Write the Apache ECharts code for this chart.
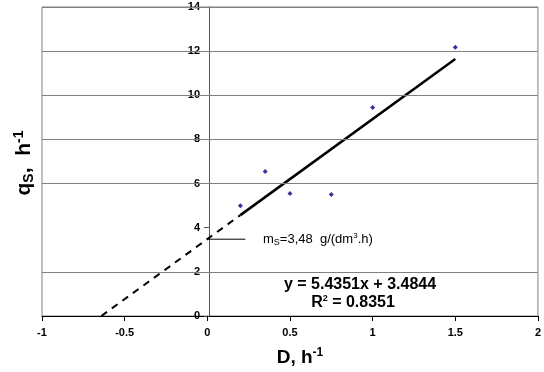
<!DOCTYPE html>
<html>
<head>
<meta charset="utf-8">
<script src="https://cdn.jsdelivr.net/npm/echarts@6/dist/echarts.min.js"></script>
<style>
  html, body { margin: 0; padding: 0; background: #fff; }
  #chart { width: 544px; height: 372px; }
</style>
</head>
<body>
<div id="chart"></div>
<script>
// measured points (D, qS)
var dVals = [0.2, 0.35, 0.5, 0.75, 1.0, 1.5];
var qVals = [5.0, 6.55, 5.55, 5.5, 9.45, 12.18];
// regression y = 5.4351x + 3.4844, end points
var fitX = [0.2, 1.5];
var fitY = [4.57, 11.64];
var extX = [-0.641, 0.2];
var extY = [0, 4.57];
// pointer to the intercept
var msX = [0, 0.23];
var msY = [3.48, 3.48];
// horizontal gridlines seen on the picture
var yGrid = [2, 6, 8, 10, 12, 14];

function pairs(xs, ys) {
  return xs.map(function (x, i) { return [x, ys[i]]; });
}

var font = '"Liberation Sans", Arial, sans-serif';
var chart = echarts.init(document.getElementById('chart'));

chart.setOption({
  animation: false,
  grid: {
    left: 42, right: 1, top: 7, bottom: 56,
    show: true, borderColor: '#808080', borderWidth: 1
  },
  xAxis: {
    type: 'value', min: -1, max: 2, interval: 0.5,
    axisLine: { onZero: false, lineStyle: { color: '#000', width: 1 } },
    axisTick: { show: true, length: 5, lineStyle: { color: '#000' } },
    axisLabel: { color: '#000', fontFamily: font, fontWeight: 'bold', fontSize: 11, margin: 11 },
    splitLine: { show: false }
  },
  yAxis: {
    type: 'value', min: 0, max: 14, interval: 2,
    position: 'left', offset: -167,
    axisLine: { show: true, onZero: false, lineStyle: { color: '#555', width: 1 } },
    axisTick: { show: true, length: 5, lineStyle: { color: '#555' } },
    axisLabel: { color: '#000', fontFamily: font, fontWeight: 'bold', fontSize: 11, margin: 9 },
    splitLine: { show: false }
  },
  series: [
    {
      type: 'line', data: [], silent: true,
      markLine: {
        silent: true, symbol: 'none', label: { show: false },
        lineStyle: { color: '#808080', width: 1, type: 'solid' },
        data: yGrid.map(function (v) { return { yAxis: v }; })
      }
    },
    {
      type: 'line', data: pairs(extX, extY), showSymbol: false,
      lineStyle: { color: '#000', width: 2, type: [7, 6] }
    },
    {
      type: 'line', data: pairs(fitX, fitY), showSymbol: false,
      lineStyle: { color: '#000', width: 2.5 }
    },
    {
      type: 'line', data: pairs(msX, msY), showSymbol: false,
      lineStyle: { color: '#000', width: 1 }
    },
    {
      type: 'scatter', data: pairs(dVals, qVals),
      symbol: 'diamond', symbolSize: 5,
      itemStyle: { color: '#000080' }
    }
  ],
  graphic: [
    {
      type: 'text', x: 24, y: 163, rotation: Math.PI / 2,
      style: {
        text: '{b|q}{s|S}{b|,  h}{p|-1}',
        align: 'center', verticalAlign: 'middle',
        rich: {
          b: { fontFamily: font, fontWeight: 'bold', fontSize: 21, fill: '#000' },
          s: { fontFamily: font, fontWeight: 'bold', fontSize: 14, fill: '#000', padding: [10, 0, 0, 0] },
          p: { fontFamily: font, fontWeight: 'bold', fontSize: 14, fill: '#000', padding: [0, 0, 10, 0] }
        }
      }
    },
    {
      type: 'text', x: 300, y: 358,
      style: {
        text: '{b|D, h}{p|-1}',
        align: 'center', verticalAlign: 'middle',
        rich: {
          b: { fontFamily: font, fontWeight: 'bold', fontSize: 19, fill: '#000' },
          p: { fontFamily: font, fontWeight: 'bold', fontSize: 12, fill: '#000', padding: [0, 0, 10, 0] }
        }
      }
    },
    {
      type: 'text', x: 263, y: 239,
      style: {
        text: '{n|m}{s|S}{n|=3,48  g/(dm}{p|3}{n|.h)}',
        align: 'left', verticalAlign: 'middle',
        rich: {
          n: { fontFamily: font, fontSize: 13, fill: '#000' },
          s: { fontFamily: font, fontSize: 9, fill: '#000', padding: [7, 0, 0, 0] },
          p: { fontFamily: font, fontSize: 8, fill: '#000', padding: [0, 0, 7, 0] }
        }
      }
    },
    {
      type: 'text', x: 360, y: 285,
      style: {
        text: 'y = 5.4351x + 3.4844',
        align: 'center', verticalAlign: 'middle',
        font: 'bold 16px ' + font, fill: '#000'
      }
    },
    {
      type: 'text', x: 353, y: 303,
      style: {
        text: '{b|R}{p|2}{b| = 0.8351}',
        align: 'center', verticalAlign: 'middle',
        rich: {
          b: { fontFamily: font, fontWeight: 'bold', fontSize: 16, fill: '#000' },
          p: { fontFamily: font, fontWeight: 'bold', fontSize: 9, fill: '#000', padding: [0, 0, 8, 0] }
        }
      }
    }
  ]
});
</script>
</body>
</html>
